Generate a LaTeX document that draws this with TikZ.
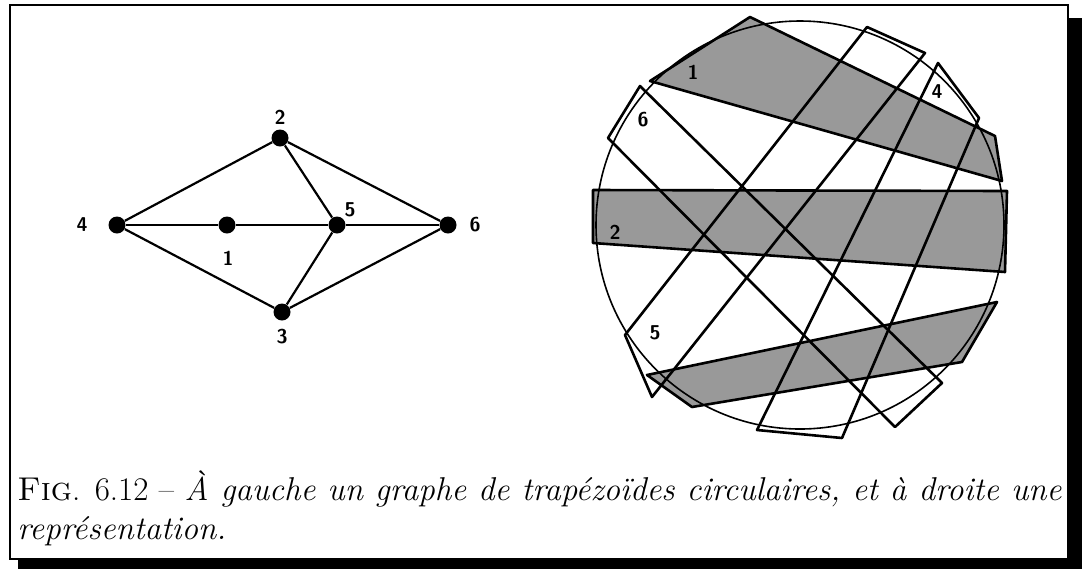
\documentclass[tikz,border=0pt]{standalone}
\usepackage{tikz}

\begin{document}
\begin{tikzpicture}[x=0.5pt,y=-0.5pt,
  vertex/.style={circle,fill,minimum size=8.5pt,inner sep=0pt},
  edge/.style={line width=1.1pt},
  lbl/.style={font=\sffamily\bfseries\fontsize{10}{11}\selectfont,inner sep=0pt},
  trap/.style={line width=1.3pt,line join=round},
  shade/.style={fill=black!40}
]
\useasboundingbox (0,0) rectangle (1087,569);
% frame with shadow
\fill (1068,18) rectangle (1082,569);
\fill (18,559) rectangle (1082,569);
\draw[line width=1pt] (10,5) rectangle (1068,559);

% left: the graph
\node[vertex] (n1) at (227,225) {};
\node[vertex] (n2) at (280,138) {};
\node[vertex] (n3) at (282,312) {};
\node[vertex] (n4) at (117,225) {};
\node[vertex] (n5) at (337,225) {};
\node[vertex] (n6) at (448,225) {};

\node[lbl] (l1) at (228,258) {1};
\node[lbl] (l2) at (280,117) {2};
\node[lbl] (l3) at (282,337) {3};
\node[lbl] (l4) at (82,225) {4};
\node[lbl] (l5) at (350,210) {5};
\node[lbl] (l6) at (475,225) {6};

\draw[edge] (n4)--(n2);
\draw[edge] (n4)--(n1);
\draw[edge] (n4)--(n3);
\draw[edge] (n1)--(n5);
\draw[edge] (n2)--(n5);
\draw[edge] (n2)--(n6);
\draw[edge] (n5)--(n6);
\draw[edge] (n5)--(n3);
\draw[edge] (n3)--(n6);

% right: the representation
\fill[shade] (750,17) -- (995,136) -- (1002,181) -- (650,81) -- cycle;
\fill[shade] (593,190) -- (1007,191) -- (1005,272) -- (593,243) -- cycle;
\fill[shade] (647,375) -- (997,302) -- (962,362) -- (692,407) -- cycle;

\draw[line width=0.8pt] (800,225) circle[radius=102pt];

\draw[trap] (750,17) -- (995,136) -- (1002,181) -- (650,81) -- cycle;
\draw[trap] (593,190) -- (1007,191) -- (1005,272) -- (593,243) -- cycle;
\draw[trap] (647,375) -- (997,302) -- (962,362) -- (692,407) -- cycle;
\draw[trap] (938,63) -- (979,118) -- (842,438) -- (757,430) -- cycle;
\draw[trap] (867,27) -- (925,53) -- (652,397) -- (625,335) -- cycle;
\draw[trap] (640,86) -- (942,383) -- (895,427) -- (608,138) -- cycle;

\node[lbl] (t1) at (693,72) {1};
\node[lbl] (t2) at (615,232) {2};
\node[lbl] (t4) at (937,92) {4};
\node[lbl] (t5) at (655,333) {5};
\node[lbl] (t6) at (643,120) {6};

% caption
\node[anchor=north west,inner sep=0pt,text width=522pt,align=justify,
  font=\fontsize{16.5}{19.5}\selectfont] (cap) at (17,470)
  {\textsc{Fig}. 6.12 -- \textit{À gauche un graphe de trapézoïdes circulaires, et à droite une représentation.}};
\end{tikzpicture}
\end{document}
